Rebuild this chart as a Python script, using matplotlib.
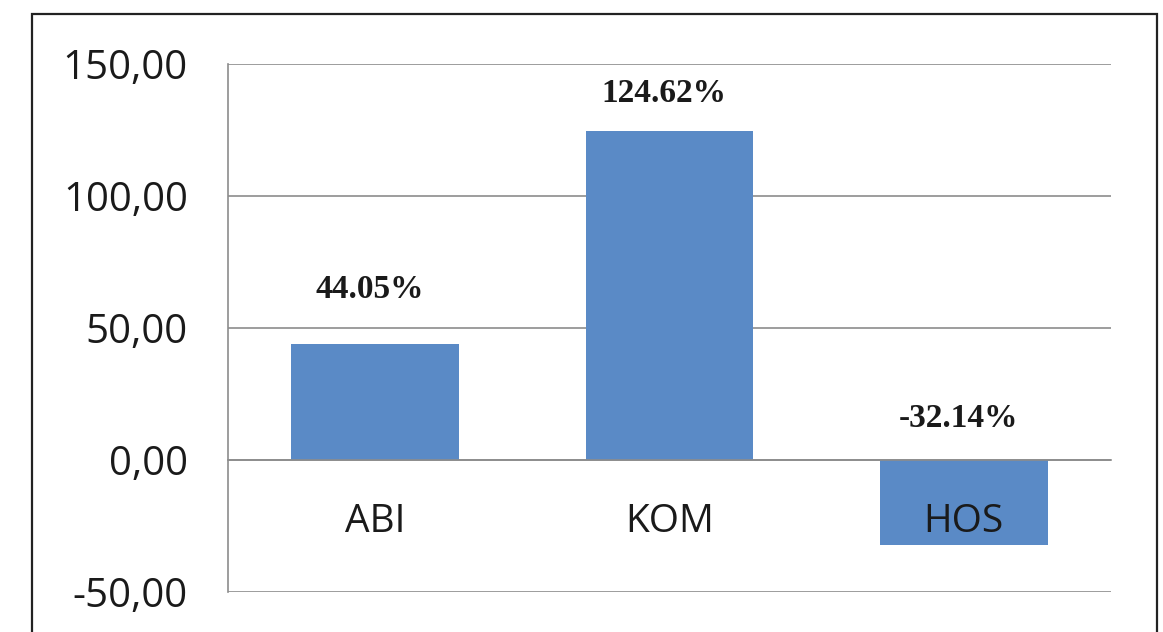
import matplotlib
matplotlib.use("Agg")
import matplotlib.pyplot as plt
from matplotlib.patches import Rectangle
from matplotlib.ticker import FuncFormatter

categories = ["ABI", "KOM", "HOS"]
values = [44.05, 124.62, -32.14]
value_labels = ["44.05%", "124.62%", "-32.14%"]
yticks = [-50, 0, 50, 100, 150]

# label offsets above the bar top (or above zero for negatives), in points
label_offsets = [39, 27, 30]

W, H = 1163, 632
fig = plt.figure(figsize=(W / 100, H / 100), dpi=100)
fig.patch.set_facecolor("white")

# outer chart frame (runs off the bottom edge like the reference)
fig.patches.append(Rectangle((32 / W, -0.05), (1157 - 32) / W, 1.05 - 14 / H,
                             transform=fig.transFigure, fill=False,
                             edgecolor="#222222", linewidth=1.6, clip_on=False))

ax = fig.add_axes([228 / W, 1 - 592 / H, (1111 - 228) / W, (592 - 64) / H])

x = list(range(len(categories)))
ax.bar(x, values, width=0.57, color="#5A8AC6", zorder=1)

# gridlines behind the bars, axis (labels, zero line) above them
for t in yticks:
    ax.axhline(t, color="#8c8c8c", linewidth=1.2, zorder=0.5)
ax.set_axisbelow(False)

ax.set_xlim(-0.5, len(categories) - 0.5)
ax.set_ylim(-50, 150)
ax.set_yticks(yticks)
ax.yaxis.set_major_formatter(FuncFormatter(lambda v, p: ("%.2f" % v).replace(".", ",")))

for s in ["top", "right"]:
    ax.spines[s].set_visible(False)
ax.spines["left"].set_color("#8c8c8c")
ax.spines["left"].set_linewidth(1.2)
ax.spines["bottom"].set_position(("data", 0))
ax.spines["bottom"].set_color("#8c8c8c")
ax.spines["bottom"].set_linewidth(1.2)

ax.set_xticks(x)
ax.set_xticklabels(categories)
ax.tick_params(axis="x", length=0, pad=31, labelsize=28)
ax.tick_params(axis="y", length=0, pad=29, labelsize=29)
for lab in ax.get_xticklabels() + ax.get_yticklabels():
    lab.set_fontfamily("Open Sans")
    lab.set_color("#1a1a1a")

for i, v in enumerate(values):
    ax.annotate(value_labels[i], xy=(x[i], max(v, 0)), xytext=(-4, label_offsets[i]),
                textcoords="offset points", ha="center", va="center",
                fontsize=24, fontweight="bold", family="Liberation Serif",
                color="#1a1a1a", zorder=4)

fig.savefig("out.png", dpi=100)
